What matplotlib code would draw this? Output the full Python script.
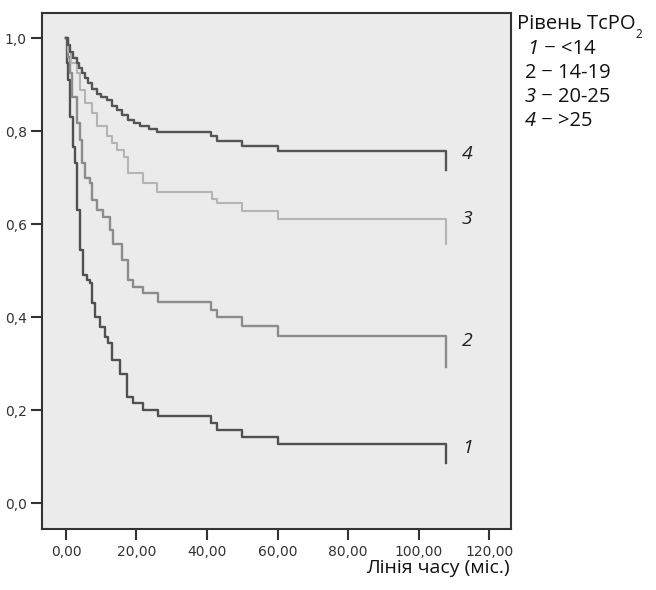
import matplotlib.pyplot as plt

# Kaplan-Meier style curves
t1 = [0, 0.4, 0.65, 1.1, 2.1, 2.6, 3.0, 4.0, 4.9, 5.9, 6.8, 7.3, 8.2, 9.6, 11.1, 12.0,
      13.0, 15.3, 17.2, 19.1, 21.9, 26.2, 41.0, 42.8, 50.0, 60.0, 107.8]
s1 = [1.0, 0.946, 0.91, 0.83, 0.766, 0.731, 0.63, 0.544, 0.49, 0.48, 0.473, 0.43, 0.40,
      0.379, 0.358, 0.344, 0.308, 0.277, 0.229, 0.216, 0.201, 0.187, 0.173, 0.157,
      0.143, 0.128, 0.086]

t2 = [0, 0.5, 1.1, 1.6, 3.0, 4.0, 4.5, 5.4, 6.8, 7.3, 8.7, 10.6, 12.5, 13.4, 15.8, 17.7,
      19.1, 21.9, 26.2, 41.0, 42.8, 50.0, 60.0, 107.8]
s2 = [1.0, 0.96, 0.925, 0.874, 0.817, 0.78, 0.731, 0.70, 0.688, 0.652, 0.63, 0.616,
      0.587, 0.558, 0.523, 0.48, 0.465, 0.451, 0.433, 0.415, 0.40, 0.381, 0.359, 0.292]

t3 = [0, 0.5, 1.5, 3.0, 4.0, 5.4, 7.3, 8.7, 11.5, 13.0, 14.4, 16.5, 17.6, 21.8, 25.8,
      41.3, 42.8, 50.0, 60.0, 107.8]
s3 = [1.0, 0.97, 0.946, 0.925, 0.888, 0.86, 0.839, 0.81, 0.79, 0.774, 0.759, 0.745,
      0.71, 0.688, 0.669, 0.655, 0.645, 0.628, 0.612, 0.558]

t4 = [0, 0.5, 1.1, 2.0, 3.0, 3.8, 4.5, 5.4, 6.3, 7.5, 8.7, 10.0, 11.5, 13.0, 14.4, 16.0,
      17.7, 19.3, 21.0, 23.5, 25.7, 41.0, 42.7, 50.0, 60.0, 107.8]
s4 = [1.0, 0.985, 0.97, 0.957, 0.946, 0.935, 0.925, 0.914, 0.903, 0.891, 0.88, 0.873,
      0.866, 0.855, 0.845, 0.835, 0.824, 0.817, 0.81, 0.804, 0.799, 0.789, 0.778,
      0.768, 0.757, 0.716]

xticks = [0, 20, 40, 60, 80, 100, 120]
yticks = [0.0, 0.2, 0.4, 0.6, 0.8, 1.0]

fig = plt.figure(figsize=(6.56, 5.9), dpi=100)
ax = fig.add_axes([0.064, 0.103, 0.715, 0.875])
ax.set_facecolor('#ebebeb')

ax.step(t1, s1, where='post', color='#505050', lw=1.7)
ax.step(t2, s2, where='post', color='#8c8c8c', lw=1.7)
ax.step(t3, s3, where='post', color='#b4b4b4', lw=1.5)
ax.step(t4, s4, where='post', color='#555555', lw=1.7)

ax.set_xlim(-6.8, 126.2)
ax.set_ylim(-0.056, 1.054)
ax.set_xticks(xticks)
ax.set_xticklabels([f'{v:.2f}'.replace('.', ',') for v in xticks])
ax.set_yticks(yticks)
ax.set_yticklabels([f'{v:.1f}'.replace('.', ',') for v in yticks])
ax.tick_params(direction='out', length=8, width=1.5, color='#333333',
               labelsize=10, labelcolor='#333333', pad=3)
for sp in ax.spines.values():
    sp.set_color('#333333')
    sp.set_linewidth(1.5)

# curve labels
fnt = 'Open Sans'
for lab, yv in zip(['4', '3', '2', '1'], [0.751, 0.611, 0.348, 0.118]):
    ax.text(113.8, yv, lab, style='italic', family=fnt, fontsize=14,
            ha='center', va='center', color='#222222')

# legend block
t = fig.text(0.788, 1 - 29 / 590, 'Рівень TcPO', family=fnt, fontsize=14.5,
             va='baseline', color='#111111')
ax.annotate('2', xy=(1, 0.0), xycoords=t, family=fnt, fontsize=8.5,
            va='center', ha='left', color='#111111')
leg_num = ['1', '2', '3', '4']
leg_txt = [' − <14', ' − 14-19', ' − 20-25', ' − >25']
leg_it = [True, False, True, True]
leg_y = [54, 78, 102, 126]
for n, txt, it, yp in zip(leg_num, leg_txt, leg_it, leg_y):
    nt = fig.text(0.804 if n == '1' else 0.8, 1 - yp / 590, n, family=fnt, fontsize=14.5,
                  style='italic' if it else 'normal', va='baseline', color='#111111')
    ax.annotate(txt, xy=(1, 0), xycoords=nt, family=fnt, fontsize=14.5,
                va='bottom', ha='left', color='#111111')

fig.text(0.777, 1 - 573 / 590, 'Лінія часу (міс.)', family=fnt, fontsize=14,
         ha='right', va='baseline', color='#111111')

fig.savefig('out.png', dpi=100)
